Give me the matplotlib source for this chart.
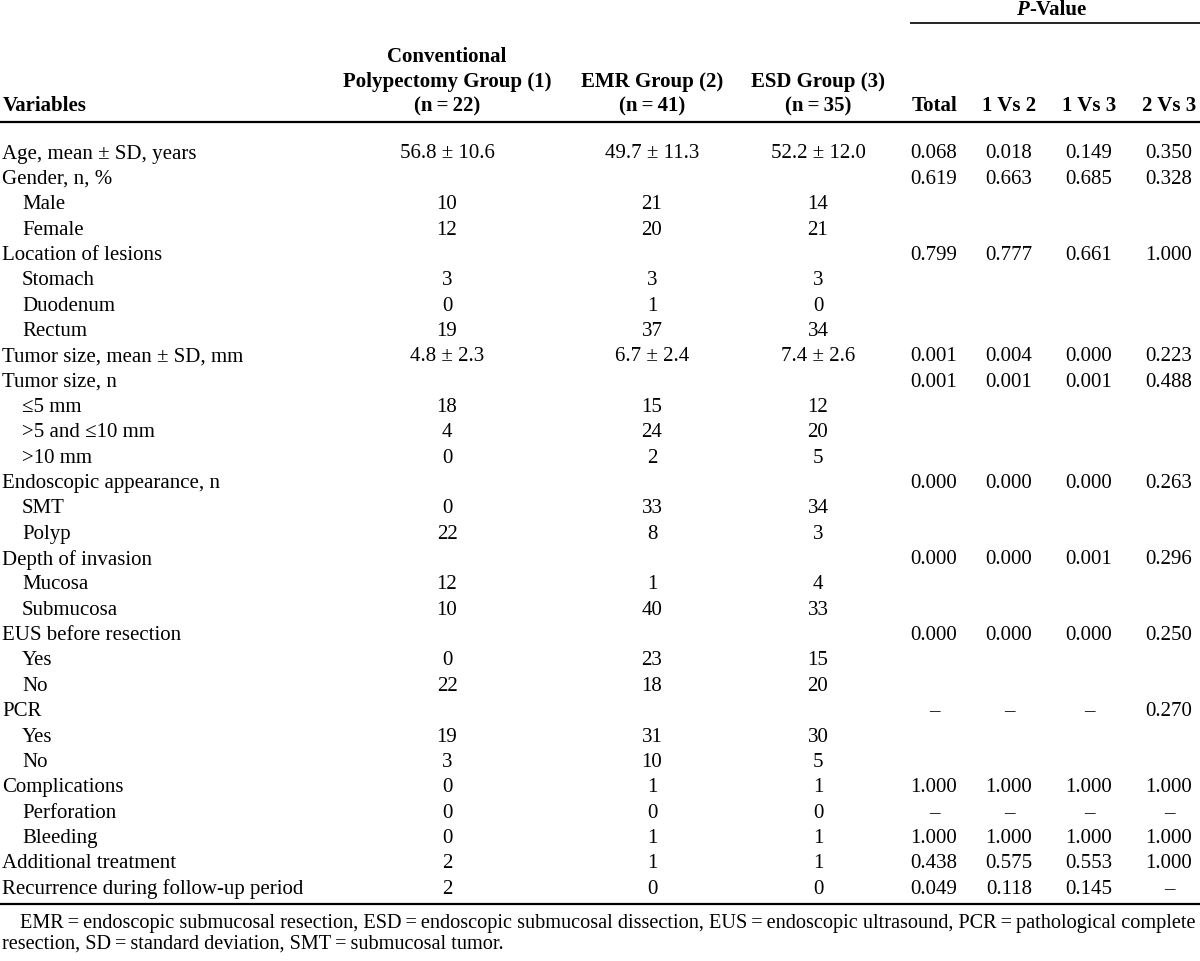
from matplotlib import pyplot as plt

# row labels, indent flag marks sub-rows
variables = ["Age, mean \u00b1 SD, years", "Gender, n, %", "Male", "Female",
             "Location of lesions", "Stomach", "Duodenum", "Rectum",
             "Tumor size, mean \u00b1 SD, mm", "Tumor size, n", "\u22645 mm",
             ">5 and \u226410 mm", ">10 mm", "Endoscopic appearance, n", "SMT", "Polyp",
             "Depth of invasion", "Mucosa", "Submucosa", "EUS before resection",
             "Yes", "No", "PCR", "Yes", "No", "Complications", "Perforation",
             "Bleeding", "Additional treatment", "Recurrence during follow-up period"]
indented = [0, 0, 1, 1, 0, 1, 1, 1, 0, 0, 1, 1, 1, 0, 1, 1, 0, 1, 1, 0,
            1, 1, 0, 1, 1, 0, 1, 1, 0, 0]

# group columns
group_1 = ["56.8 \u00b1 10.6", "", "10", "12", "", "3", "0", "19", "4.8 \u00b1 2.3", "",
           "18", "4", "0", "", "0", "22", "", "12", "10", "", "0", "22", "", "19", "3",
           "0", "0", "0", "2", "2"]
group_2 = ["49.7 \u00b1 11.3", "", "21", "20", "", "3", "1", "37", "6.7 \u00b1 2.4", "",
           "15", "24", "2", "", "33", "8", "", "1", "40", "", "23", "18", "", "31", "10",
           "1", "0", "1", "1", "0"]
group_3 = ["52.2 \u00b1 12.0", "", "14", "21", "", "3", "0", "34", "7.4 \u00b1 2.6", "",
           "12", "20", "5", "", "34", "3", "", "4", "33", "", "15", "20", "", "30", "5",
           "1", "0", "1", "1", "0"]

# p-values
p_total = ["0.068", "0.619", "", "", "0.799", "", "", "", "0.001", "0.001", "", "", "",
           "0.000", "", "", "0.000", "", "", "0.000", "", "", "\u2013", "", "",
           "1.000", "\u2013", "1.000", "0.438", "0.049"]
p_1v2 = ["0.018", "0.663", "", "", "0.777", "", "", "", "0.004", "0.001", "", "", "",
         "0.000", "", "", "0.000", "", "", "0.000", "", "", "\u2013", "", "",
         "1.000", "\u2013", "1.000", "0.575", "0.118"]
p_1v3 = ["0.149", "0.685", "", "", "0.661", "", "", "", "0.000", "0.001", "", "", "",
         "0.000", "", "", "0.001", "", "", "0.000", "", "", "\u2013", "", "",
         "1.000", "\u2013", "1.000", "0.553", "0.145"]
p_2v3 = ["0.350", "0.328", "", "", "1.000", "", "", "", "0.223", "0.488", "", "", "",
         "0.263", "", "", "0.296", "", "", "0.250", "", "", "0.270", "", "",
         "1.000", "\u2013", "1.000", "1.000", "\u2013"]

group_headers = [["Conventional", "Polypectomy Group (1)", "(n\u2009=\u200922)"],
                 ["EMR Group (2)", "(n\u2009=\u200941)"],
                 ["ESD Group (3)", "(n\u2009=\u200935)"]]
p_headers = ["Total", "1 Vs 2", "1 Vs 3", "2 Vs 3"]

footnote = ["EMR\u2009=\u2009endoscopic submucosal resection, ESD\u2009=\u2009endoscopic submucosal "
            "dissection, EUS\u2009=\u2009endoscopic ultrasound, PCR\u2009=\u2009pathological complete",
            "resection, SD\u2009=\u2009standard deviation, SMT\u2009=\u2009submucosal tumor."]

plt.rcParams['font.family'] = ['Liberation Serif', 'DejaVu Serif']
FS = 15

fig = plt.figure(figsize=(12, 9.62), dpi=100)
ax = fig.add_axes([0, 0, 1, 1])
ax.set_xlim(0, 1200)
ax.set_ylim(962, 0)
ax.axis("off")

# column centres in pixels
group_x = [447, 652, 818]
p_x = [934, 1009, 1089, 1169]
row_y0 = 154
row_h = 25.35

# header
header_y = [57, 82, 106]
ax.text(3, header_y[2], "Variables", fontsize=FS, fontweight="bold", va="center", ha="left")
for x, lines in zip(group_x, group_headers):
    for line, y in zip(lines, header_y[-len(lines):]):
        ax.text(x, y, line, fontsize=FS, fontweight="bold", va="center", ha="center")
for x, h in zip(p_x, p_headers):
    ax.text(x, header_y[2], h, fontsize=FS, fontweight="bold", va="center", ha="center")
ax.text(1029, 10, "P", fontsize=FS, fontweight="bold", fontstyle="italic", va="center", ha="right")
ax.text(1029, 10, "-Value", fontsize=FS, fontweight="bold", va="center", ha="left")

# rules
ax.plot([910, 1200], [24, 24], color="black", lw=1.2, solid_capstyle="butt")
ax.plot([0, 1200], [123, 123], color="black", lw=1.6, solid_capstyle="butt")
ax.plot([0, 1200], [905, 905], color="black", lw=1.6, solid_capstyle="butt")

# body rows
for i, label in enumerate(variables):
    y = row_y0 + i * row_h
    ax.text(22 if indented[i] else 2, y, label, fontsize=FS, va="center", ha="left")
    for x, col in zip(group_x, [group_1, group_2, group_3]):
        ax.text(x, y, col[i], fontsize=FS, va="center", ha="center")
    for x, col in zip(p_x, [p_total, p_1v2, p_1v3, p_2v3]):
        ax.text(x, y, col[i], fontsize=FS, va="center", ha="center")

# footnote
ax.text(20, 924, footnote[0], fontsize=14.6, va="center", ha="left")
ax.text(2, 944, footnote[1], fontsize=14.6, va="center", ha="left")

fig.savefig("out.png", dpi=100)
